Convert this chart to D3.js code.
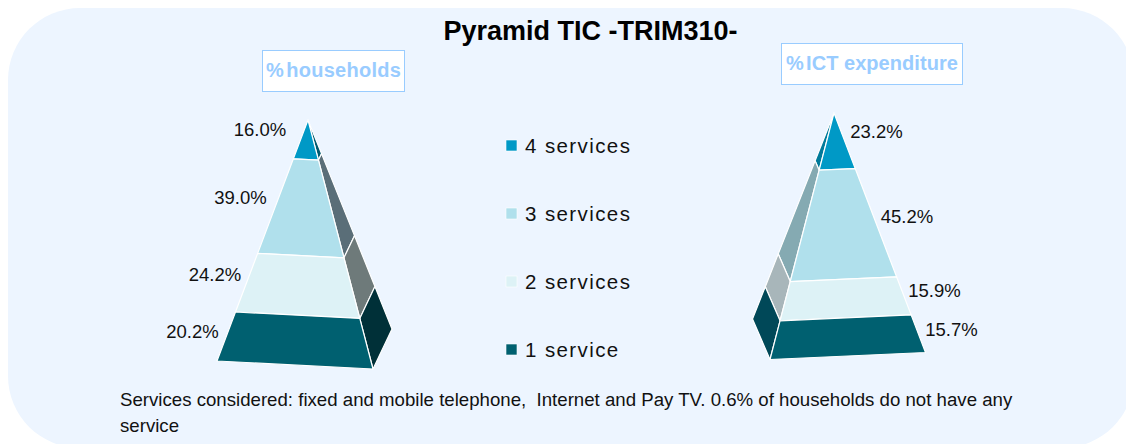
<!DOCTYPE html>
<html><head><meta charset="utf-8">
<script src="https://cdn.jsdelivr.net/npm/d3@7"></script>
<style>html,body{margin:0;padding:0;background:#fff;overflow:hidden}svg{display:block}text{font-family:"Liberation Sans",Arial,sans-serif}</style>
</head><body><svg id="c" width="1126" height="444"></svg>
<script>
const titleText = "Pyramid TIC -TRIM310-";
const categories = ["4 services","3 services","2 services","1 service"];
const householdValues = [16.0,39.0,24.2,20.2];
const expenditureValues = [23.2,45.2,15.9,15.7];
const panelTitles = ["households","ICT expenditure"];
const frontColors = ["#0099c6","#b0e0ec","#ddf2f6","#006070"];
const sideColorsHouseholds = ["#005a70","#5a6e78","#6e7a7a","#003038"];
const sideColorsExpenditure = ["#007a9a","#85aab2","#a8b6ba","#004858"];
const noteLines = ["Services considered: fixed and mobile telephone,  Internet and Pay TV. 0.6% of households do not have any","service"];

const svg = d3.select("#c");
svg.append("path").attr("fill","#edf5ff")
  .attr("d", (()=>{const x0=8,y0=8,x1=1134,y1=448,r=72;
    const p=d3.path();p.moveTo(x0+r,y0);p.lineTo(x1-r,y0);p.arcTo(x1,y0,x1,y0+r,r);p.lineTo(x1,y1-r);p.arcTo(x1,y1,x1-r,y1,r);p.lineTo(x0+r,y1);p.arcTo(x0,y1,x0,y1-r,r);p.lineTo(x0,y0+r);p.arcTo(x0,y0,x0+r,y0,r);p.closePath();return p.toString();})());

svg.append("text").attr("x",590.5).attr("y",40).attr("text-anchor","middle")
  .attr("font-size",27).attr("font-weight","bold").attr("fill","#000").text(titleText);

function pyramid(cfg){
  const {values,sides,apex,frontA,frontB,back,labelPos}=cfg;
  const g=svg.append("g");
  const cum=d3.cumsum(values);
  const t=d3.scaleLinear().domain([0,d3.sum(values)]).range([0,1]);
  const along=(c,v)=>[d3.interpolateNumber(apex[0],c[0])(t(v)),d3.interpolateNumber(apex[1],c[1])(t(v))];
  const rows=values.map((v,i)=>({i,v,a:i?cum[i-1]:0,b:cum[i]}));
  const line=d3.line();
  g.selectAll("path.side").data(rows).join("path").attr("class","side")
    .attr("d",d=>line([along(frontB,d.a),along(back,d.a),along(back,d.b),along(frontB,d.b)])+"Z")
    .attr("fill",d=>sides[d.i]).attr("stroke","#fff").attr("stroke-width",1.2).attr("stroke-linejoin","round");
  g.selectAll("path.front").data(rows).join("path").attr("class","front")
    .attr("d",d=>line([along(frontA,d.a),along(frontB,d.a),along(frontB,d.b),along(frontA,d.b)])+"Z")
    .attr("fill",d=>frontColors[d.i]).attr("stroke","#fff").attr("stroke-width",1.2).attr("stroke-linejoin","round");
  g.selectAll("text").data(rows).join("text")
    .attr("x",d=>labelPos[d.i][0]).attr("y",d=>labelPos[d.i][1])
    .attr("font-size",18.5).attr("fill","#111").attr("text-anchor","middle")
    .text(d=>d.v.toFixed(1)+"%");
}
pyramid({values:householdValues,sides:sideColorsHouseholds,apex:[308,120],frontA:[217,361],frontB:[373,369],back:[392,329],
  labelPos:[[260,136],[240.5,204],[215,281],[192.5,338]]});
pyramid({values:expenditureValues,sides:sideColorsExpenditure,apex:[834,113],frontA:[925.5,352.5],frontB:[770,359.5],back:[752.5,319],
  labelPos:[[876.5,138],[907,223],[934.5,297],[951.5,336]]});

function panel(text,x,y,w,h,spacing){
  svg.append("rect").attr("x",x).attr("y",y).attr("width",w).attr("height",h)
    .attr("fill","#fff").attr("stroke","#99ccff").attr("stroke-width",1);
  const label=svg.append("text").attr("x",x+w/2).attr("y",y+h/2+5.5).attr("text-anchor","middle")
    .attr("font-size",20).attr("font-weight","bold").attr("letter-spacing",spacing).attr("fill","#99ccff");
  label.append("tspan").attr("word-spacing",-3.5).text("% ");
  label.append("tspan").text(text);
}
panel(panelTitles[0],262.5,50.5,142,41,0.25);
panel(panelTitles[1],781.5,43.5,181,41,0.05);

const legendY=d3.scalePoint().domain(categories).range([146,350]);
const leg=svg.append("g");
leg.selectAll("rect").data(categories).join("rect")
  .attr("x",506).attr("y",d=>legendY(d)-6).attr("width",11).attr("height",11)
  .attr("fill",(d,i)=>frontColors[i]).attr("stroke","#fff").attr("stroke-width",0.6);
leg.selectAll("text").data(categories).join("text")
  .attr("x",525).attr("y",d=>legendY(d)+7).attr("font-size",20.5).attr("letter-spacing",1.4).attr("fill","#111").text(d=>d);

svg.append("g").selectAll("text").data(noteLines).join("text")
  .attr("x",120).attr("y",(d,i)=>406+i*26).attr("font-size",18.65).attr("fill","#111")
  .style("white-space","pre").text(d=>d);
</script></body></html>
